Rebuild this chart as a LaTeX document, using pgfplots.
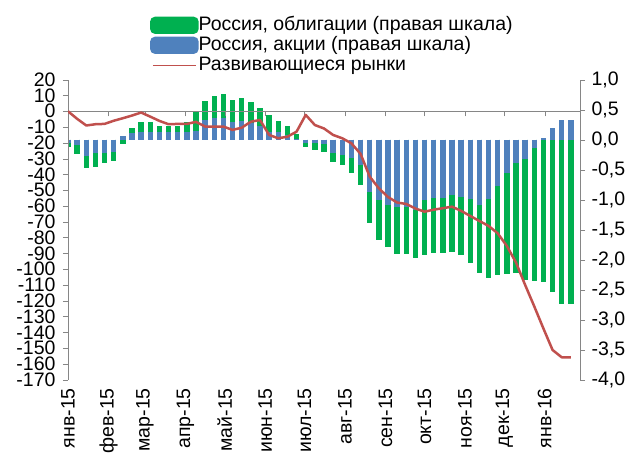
\documentclass[border=0pt]{standalone}
\usepackage{fontspec}
\setmainfont{Liberation Sans}
\usepackage{pgfplots}
\pgfplotsset{compat=1.18}
\usepackage{pgfplotstable}
\definecolor{rgreen}{RGB}{0,176,80}
\definecolor{rblue}{RGB}{79,129,189}
\definecolor{rred}{RGB}{192,80,77}
\definecolor{agray}{RGB}{134,134,134}
\pgfplotstableread{
k d b t L
0 0 -0.05 -0.12 0
1 7 -0.09 -0.24 -4.8
2 14 -0.28 -0.48 -9.0
3 21 -0.23 -0.45 -8.2
4 28 -0.23 -0.39 -8.0
5 35 -0.20 -0.36 -6.0
6 42 0.06 -0.08 -4.4
7 49 0.11 0.19 -2.7
8 56 0.13 0.30 -0.8
9 63 0.13 0.29 -3.4
10 70 0.12 0.22 -6.1
11 77 0.12 0.22 -8.2
12 84 0.12 0.22 -8.0
13 91 0.12 0.30 -8.0
14 98 0.15 0.47 -6.7
15 105 0.33 0.65 -9.7
16 112 0.36 0.73 -9.7
17 119 0.36 0.76 -9.7
18 126 0.30 0.66 -11.8
19 133 0.31 0.69 -10.4
20 140 0.27 0.63 -6.6
21 147 0.22 0.52 -5.5
22 154 0.13 0.41 -15.0
23 161 0.13 0.31 -17.1
24 168 0.08 0.23 -16.1
25 175 0.01 0.09 -12.9
26 182 -0.05 -0.13 -2.3
27 189 -0.06 -0.18 -8.7
28 196 -0.08 -0.21 -10.9
29 203 -0.23 -0.38 -15.0
30 210 -0.26 -0.43 -17.1
31 217 -0.31 -0.56 -20.3
32 224 -0.42 -0.75 -27.0
33 231 -0.87 -1.39 -41.4
34 238 -1.00 -1.67 -48.8
35 245 -1.09 -1.79 -54.3
36 252 -1.13 -1.91 -57.8
37 259 -1.12 -1.91 -58.7
38 266 -1.17 -1.97 -61.6
39 273 -1.00 -1.93 -63.6
40 280 -0.98 -1.89 -62.3
41 287 -0.98 -1.89 -61.4
42 294 -0.93 -1.87 -60.4
43 301 -0.95 -1.92 -63.1
44 308 -0.99 -2.06 -66.3
45 315 -1.09 -2.23 -69.5
46 322 -0.99 -2.30 -72.6
47 329 -0.77 -2.25 -77.3
48 336 -0.55 -2.24 -85.3
49 343 -0.39 -2.23 -95.8
50 350 -0.33 -2.34 -110.0
51 357 -0.14 -2.35 -123.6
52 364 0.03 -2.37 -137.6
53 371 0.20 -2.54 -151.2
54 378 0.33 -2.74 -155.8
55 385 0.33 -2.74 -155.8
}\data

\begin{document}
\begin{tikzpicture}[font=\fontsize{19.5bp}{21bp}\selectfont]
\path[use as bounding box] (-68bp,-79.3bp) rectangle (566bp,379.7bp);
\begin{axis}[
  at={(0,0)}, anchor=south west, scale only axis,
  width=512bp, height=300bp,
  xmin=0, xmax=392, ymin=-4, ymax=1,
  axis y line*=right, axis x line*=bottom,
  x axis line style={draw=none},
  y axis line style={agray},
  xtick={0,31,59,90,120,151,181,212,243,273,304,334,365},
  xticklabels={янв-15,фев-15,мар-15,апр-15,май-15,июн-15,июл-15,авг-15,сен-15,окт-15,ноя-15,дек-15,янв-16},
  x tick label style={rotate=90, anchor=east},
  major x tick style={draw=none},
  ytick={-4,-3.5,-3,-2.5,-2,-1.5,-1,-0.5,0,0.5,1},
  ytick style={agray},
  tick align=outside, major tick length=5bp,
  /pgf/number format/assume math mode=true,
  yticklabel style={inner ysep=0pt, xshift=3bp, /pgf/number format/.cd, use comma, fixed, fixed zerofill, precision=1},
  legend cell align=left,
  legend style={at={(0.16,1.212)}, anchor=north west, draw=none, fill=none,
    inner sep=0pt, row sep=2bp, column sep=0bp,
    nodes={inner sep=0pt, text height=14bp, text depth=4bp}},
]
\addplot[ycomb, draw=rgreen, line width=5.5bp,
  legend image code/.code={\fill[rgreen, rounded corners=2.5bp] (0bp,-5.8bp) rectangle (43bp,5.8bp);}]
  table[x=d, y=t]{\data};
\addlegendentry{Россия, облигации (правая шкала)}
\addplot[ycomb, draw=rblue, line width=5.5bp,
  legend image code/.code={\fill[rblue, rounded corners=2.5bp] (0bp,-5.8bp) rectangle (43bp,5.8bp);}]
  table[x=d, y=b]{\data};
\addlegendentry{Россия, акции (правая шкала)}
\addlegendimage{legend image code/.code={\draw[rred, line width=1.5bp] (0bp,0bp) -- (43bp,0bp);}}
\addlegendentry{Развивающиеся рынки}
\end{axis}
\begin{axis}[
  at={(0,0)}, anchor=south west, scale only axis,
  width=512bp, height=300bp,
  xmin=0, xmax=392, ymin=-170, ymax=20,
  axis y line*=left, axis x line*=middle,
  axis line style={agray},
  xtick={0,31,59,90,120,151,181,212,243,273,304,334,365},
  xticklabels={},
  ytick={-170,-160,...,20},
  yticklabel style={inner ysep=0pt, xshift=-4bp},
  tick style={agray},
  tick align=outside, major tick length=5bp,
  /pgf/number format/assume math mode=true,
]
\addplot[rred, line width=2.5bp, line join=round, mark=none] table[x=d, y=L]{\data};
\end{axis}
\end{tikzpicture}
\end{document}
